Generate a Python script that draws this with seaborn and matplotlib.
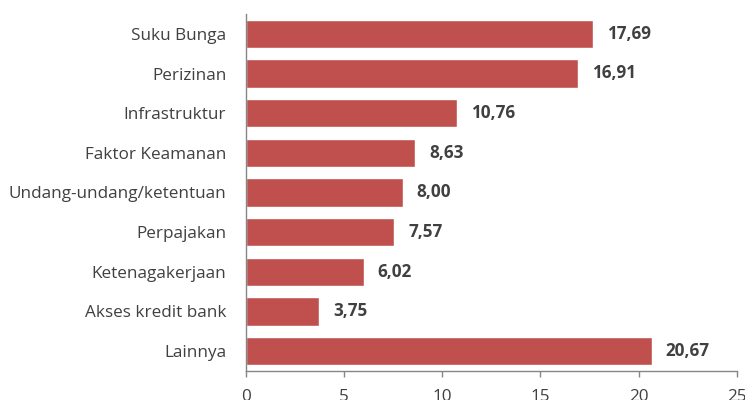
import matplotlib
matplotlib.use("Agg")
import matplotlib.pyplot as plt
import seaborn as sns
import pandas as pd

categories = ["Suku Bunga", "Perizinan", "Infrastruktur", "Faktor Keamanan",
              "Undang-undang/ketentuan", "Perpajakan", "Ketenagakerjaan",
              "Akses kredit bank", "Lainnya"]
values = [17.69, 16.91, 10.76, 8.63, 8.00, 7.57, 6.02, 3.75, 20.67]
xticks = [0, 5, 10, 15, 20, 25]

sns.set_theme(style="white")
plt.rcParams['font.family'] = ['Open Sans', 'DejaVu Sans']

df = pd.DataFrame({"cat": categories, "val": values})

fig = plt.figure(figsize=(7.45, 4.0), dpi=100)
ax = fig.add_axes([0.3298, 0.0725, 0.9893 - 0.3298, 0.965 - 0.0725])
sns.barplot(data=df, x="val", y="cat", color="#C0504D", saturation=1,
            width=0.71, ax=ax, orient="h")

for i, v in enumerate(values):
    ax.text(v + 0.7, i, f"{v:.2f}".replace(".", ","), va="center", ha="left",
            fontsize=12.3, fontweight="bold", color="#404040")

ax.set_xlim(0, 25)
ax.set_ylim(8.5, -0.5)
ax.set_xticks(xticks)
ax.set_xticklabels([str(t) for t in xticks])
ax.set_xlabel("")
ax.set_ylabel("")
for s in ["top", "right"]:
    ax.spines[s].set_visible(False)
for s in ["left", "bottom"]:
    ax.spines[s].set_color("#868686")
    ax.spines[s].set_linewidth(1.0)
ax.tick_params(axis="x", direction="out", length=4, width=1, color="#868686",
               labelsize=12.3, labelcolor="#404040", pad=9, bottom=True)
ax.tick_params(axis="y", length=0, labelsize=12.3, labelcolor="#404040", pad=14)

fig.savefig("out.png", dpi=100)
